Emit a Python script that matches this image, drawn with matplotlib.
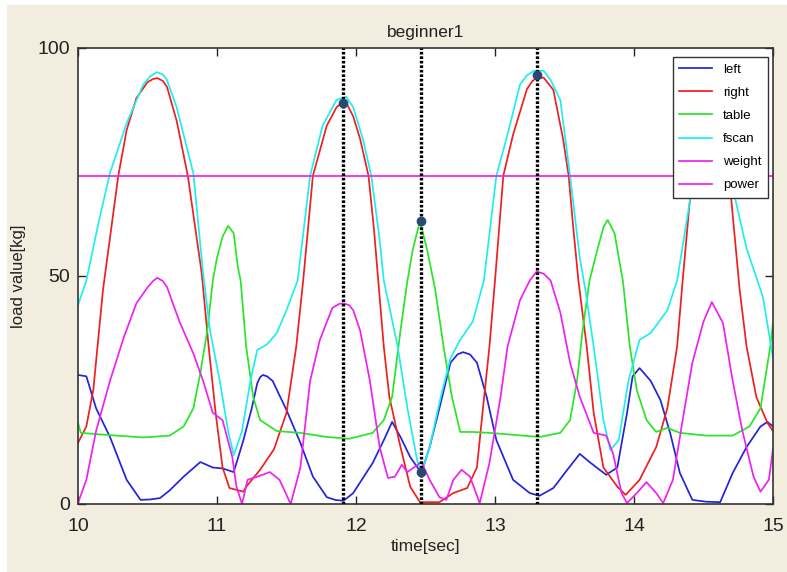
import matplotlib
matplotlib.use("Agg")
import matplotlib.pyplot as plt
from matplotlib.patches import Rectangle

# ---------------- data ----------------
left_t = [10.0, 10.06, 10.13, 10.23, 10.35, 10.45, 10.52, 10.59, 10.66, 10.76, 10.88, 10.97, 11.04, 11.12,
          11.19, 11.25, 11.29, 11.31, 11.33, 11.36, 11.40, 11.50, 11.60, 11.69, 11.79, 11.85, 11.91, 11.98, 12.12,
          12.20, 12.26, 12.32, 12.39, 12.47, 12.53, 12.60, 12.68, 12.73, 12.77, 12.82, 12.87, 12.94, 13.01,
          13.13, 13.25, 13.32, 13.42, 13.52, 13.61, 13.68, 13.80, 13.88, 13.95, 13.99, 14.04, 14.12, 14.19,
          14.26, 14.33, 14.42, 14.52, 14.62, 14.71, 14.81, 14.91, 14.96, 15.0]
left_v = [28.3, 28.0, 21.0, 14.7, 5.3, 0.9, 1.0, 1.3, 3.0, 6.0, 9.2, 8.0, 7.8, 7.0,
          14.0, 21.0, 26.5, 27.8, 28.3, 28.0, 27.0, 20.6, 13.4, 6.0, 1.5, 0.9, 0.7, 2.4, 9.0,
          14.0, 18.0, 14.7, 10.3, 6.8, 12.5, 21.0, 31.0, 32.8, 33.3, 32.8, 31.0, 23.5, 14.0,
          5.3, 2.4, 1.8, 3.5, 7.5, 11.0, 9.2, 6.4, 8.0, 20.0, 28.0, 29.8, 27.0, 22.8,
          15.6, 6.8, 0.9, 0.5, 0.4, 6.8, 12.5, 17.0, 18.0, 17.0]

right_t = [10.0, 10.06, 10.11, 10.18, 10.29, 10.35, 10.42, 10.50, 10.54, 10.57, 10.61, 10.64, 10.71, 10.79,
           10.89, 10.94, 10.99, 11.04, 11.09, 11.19, 11.21, 11.31, 11.41, 11.50, 11.57, 11.62, 11.69, 11.79,
           11.86, 11.90, 11.93, 11.98, 12.03, 12.09, 12.13, 12.16, 12.20, 12.24, 12.32, 12.39, 12.46, 12.60,
           12.70, 12.80, 12.87, 12.91, 12.96, 13.00, 13.06, 13.13, 13.23, 13.27, 13.30, 13.35, 13.42, 13.49,
           13.53, 13.56, 13.60, 13.66, 13.71, 13.78, 13.88, 13.94, 14.04, 14.16, 14.24, 14.31, 14.35, 14.40,
           14.47, 14.55, 14.63, 14.70, 14.76, 14.81, 14.88, 14.96, 15.0]
right_v = [13.4, 17.0, 25.0, 47.0, 72.0, 82.0, 89.0, 92.5, 93.2, 93.4, 92.8, 91.5, 84.0, 72.0,
           50.6, 34.5, 20.0, 8.0, 3.5, 2.7, 3.8, 7.5, 12.0, 20.0, 34.5, 49.0, 72.0, 83.0,
           87.0, 88.0, 88.0, 85.0, 80.0, 72.0, 60.0, 49.0, 34.5, 23.5, 12.5, 3.8, 0.4, 0.4,
           2.4, 3.5, 8.0, 20.0, 34.5, 49.0, 72.0, 81.0, 91.0, 92.8, 93.4, 93.5, 90.8, 80.0,
           72.0, 61.6, 49.0, 34.5, 20.0, 8.0, 3.8, 2.0, 5.3, 12.5, 21.0, 34.5, 49.0, 66.0,
           80.0, 85.0, 80.0, 66.7, 47.0, 34.5, 23.5, 17.8, 16.0]

table_t = [10.0, 10.02, 10.23, 10.47, 10.66, 10.76, 10.83, 10.88, 10.93, 10.97, 11.0, 11.04, 11.08, 11.12,
           11.15, 11.17, 11.21, 11.26, 11.31, 11.43, 11.60, 11.79, 11.95, 12.12, 12.20, 12.26, 12.32, 12.37,
           12.41, 12.46, 12.51, 12.57, 12.63, 12.69, 12.75, 12.84, 12.96, 13.20, 13.32, 13.47, 13.54, 13.59,
           13.63, 13.68, 13.73, 13.78, 13.81, 13.86, 13.91, 13.92, 13.97, 14.02, 14.09, 14.16, 14.24, 14.33,
           14.52, 14.71, 14.83, 14.91, 14.98, 15.0]
table_v = [17.8, 15.6, 15.1, 14.6, 15.0, 17.0, 21.0, 28.7, 38.0, 49.0, 54.0, 58.6, 61.0, 59.4,
           52.0, 49.0, 34.5, 23.5, 18.4, 16.0, 15.6, 14.7, 14.3, 15.6, 18.4, 23.5, 38.0, 49.0,
           56.0, 62.0, 56.0, 47.0, 34.5, 23.5, 15.8, 15.8, 15.6, 15.0, 14.7, 15.6, 18.4, 27.0,
           38.0, 49.0, 55.0, 60.7, 62.3, 59.4, 50.6, 49.0, 34.5, 25.0, 18.4, 15.8, 16.7, 15.6,
           15.0, 15.0, 17.0, 21.0, 34.5, 39.7]

fscan_t = [10.0, 10.06, 10.15, 10.23, 10.35, 10.47, 10.52, 10.57, 10.61, 10.64, 10.71, 10.83, 10.90, 10.95,
           11.02, 11.08, 11.12, 11.18, 11.24, 11.29, 11.36, 11.43, 11.50, 11.58, 11.67, 11.76, 11.86, 11.93,
           11.98, 12.05, 12.11, 12.17, 12.20, 12.30, 12.37, 12.44, 12.47, 12.53, 12.61, 12.68, 12.75, 12.84,
           12.92, 13.01, 13.09, 13.18, 13.23, 13.28, 13.35, 13.40, 13.47, 13.54, 13.61, 13.65, 13.71, 13.78,
           13.83, 13.89, 13.96, 14.04, 14.12, 14.24, 14.31, 14.40, 14.48, 14.56, 14.65, 14.73, 14.81, 14.91,
           14.93, 15.0]
fscan_v = [43.6, 49.0, 62.0, 72.6, 83.5, 92.0, 93.8, 94.7, 94.2, 93.0, 87.0, 72.5, 50.6, 38.0,
           27.0, 16.0, 10.7, 16.0, 27.0, 33.8, 35.0, 37.5, 42.5, 49.0, 72.0, 83.0, 88.6, 89.3,
           87.0, 80.0, 72.0, 58.0, 49.0, 34.5, 21.0, 9.6, 6.8, 12.5, 23.5, 32.0, 36.0, 40.0,
           49.0, 72.0, 81.0, 92.0, 94.0, 95.0, 95.0, 93.0, 88.6, 72.0, 54.0, 47.0, 34.5, 18.4,
           11.8, 14.0, 27.0, 36.0, 37.5, 42.5, 49.0, 66.0, 82.0, 88.0, 82.0, 66.7, 56.0, 47.0,
           45.0, 32.0]

weight_t = [10.0, 10.06, 10.13, 10.23, 10.33, 10.42, 10.50, 10.54, 10.57, 10.61, 10.64, 10.73, 10.83, 10.90,
            10.97, 11.04, 11.11, 11.14, 11.18, 11.22, 11.29, 11.38, 11.45, 11.53, 11.60, 11.67, 11.74, 11.83,
            11.88, 11.91, 11.95, 11.98, 12.03, 12.10, 12.17, 12.23, 12.28, 12.33, 12.37, 12.47, 12.53, 12.60,
            12.65, 12.70, 12.76, 12.82, 12.89, 12.96, 13.04, 13.09, 13.18, 13.25, 13.30, 13.35, 13.40, 13.47,
            13.54, 13.61, 13.71, 13.80, 13.85, 13.91, 13.95, 14.02, 14.09, 14.16, 14.21, 14.28, 14.35, 14.42,
            14.50, 14.56, 14.64, 14.71, 14.78, 14.86, 14.91, 14.97, 15.0]
weight_v = [0.2, 5.3, 16.0, 27.0, 36.6, 44.0, 47.5, 48.9, 49.6, 48.9, 47.6, 40.0, 33.0, 27.0,
            20.0, 18.4, 10.3, 3.8, 0.0, 5.3, 6.0, 7.0, 5.3, 0.0, 8.0, 27.0, 36.0, 43.0,
            43.9, 44.0, 43.6, 42.5, 38.0, 27.0, 12.5, 5.7, 6.0, 8.6, 7.0, 9.2, 5.3, 1.5,
            0.9, 5.3, 7.5, 6.0, 0.2, 9.0, 23.5, 34.5, 44.7, 49.0, 51.0, 50.5, 49.0, 42.0,
            31.0, 23.5, 15.6, 15.0, 11.0, 2.4, 0.2, 2.4, 4.8, 2.4, 0.2, 5.3, 18.4, 31.0,
            40.0, 44.3, 39.7, 27.0, 16.0, 6.0, 2.7, 5.3, 12.0]

power_t = [10.0, 15.0]
power_v = [72.0, 72.0]

event_times = [11.91, 12.47, 13.30]
dot_t = [11.91, 12.47, 13.30, 12.47]
dot_v = [88.0, 62.0, 94.0, 7.0]

x_ticks = [10, 11, 12, 13, 14, 15]
y_ticks = [0, 50, 100]

# ---------------- style ----------------
plt.rcParams['font.family'] = ['Liberation Sans', 'DejaVu Sans']
BEIGE = '#F3EDE0'
W, H = 787, 572
fig = plt.figure(figsize=(W / 100, H / 100), dpi=100, facecolor=BEIGE)
fig.add_artist(Rectangle((0, 0), 7 / W, 1, transform=fig.transFigure,
                         facecolor='white', edgecolor='none', zorder=-10))
fig.add_artist(Rectangle((0, 1 - 5 / H), 1, 5 / H, transform=fig.transFigure,
                         facecolor='white', edgecolor='none', zorder=-10))
ax = fig.add_axes([78 / W, 1 - 504 / H, (773 - 78) / W, (504 - 48) / H])
ax.set_facecolor('white')

lw = 1.25
common = dict(lw=lw, solid_joinstyle='round')
ax.plot(left_t, left_v, color='#2323dc', label='left', **common)
ax.plot(right_t, right_v, color='#f01e1e', label='right', **common)
ax.plot(table_t, table_v, color='#28e628', label='table', **common)
ax.plot(fscan_t, fscan_v, color='#20eeee', label='fscan', **common)
ax.plot(weight_t, weight_v, color='#ee22ee', label='weight', **common)
ax.plot(power_t, power_v, color='#ee22ee', label='power', **common)

for et in event_times:
    ax.axvline(et, color='black', lw=2.4, linestyle=(0, (0.8, 0.55)), dash_capstyle='butt', zorder=5)
ax.plot(dot_t, dot_v, 'o', color='#2a4870', markersize=6, zorder=6, linestyle='none')

ax.set_xlim(10, 15)
ax.set_ylim(0, 100)
ax.set_xticks(x_ticks)
ax.set_yticks(y_ticks)
ax.tick_params(direction='in', top=True, right=True, length=6, width=1, labelsize=14,
               colors='#222222')
ax.tick_params(axis='x', pad=10)
ax.tick_params(axis='y', pad=6)
for s in ax.spines.values():
    s.set_color('#333333')
    s.set_linewidth(1.2)

ax.set_title('beginner1', fontsize=12.5, pad=8, color='#222222')
ax.set_xlabel('time[sec]', fontsize=12.5, labelpad=3, color='#222222')
ax.set_ylabel('load value[kg]', fontsize=12, labelpad=8, color='#222222')

leg = ax.legend(loc='upper right', bbox_to_anchor=(0.993, 0.980), borderaxespad=0,
                fontsize=9.5, handlelength=2.5, labelspacing=0.82, fancybox=False,
                framealpha=1, edgecolor='#333333', borderpad=0.5, handletextpad=0.8)
leg.get_frame().set_linewidth(1.0)
leg.set_zorder(10)

fig.savefig('out.png', dpi=100, facecolor=fig.get_facecolor())
